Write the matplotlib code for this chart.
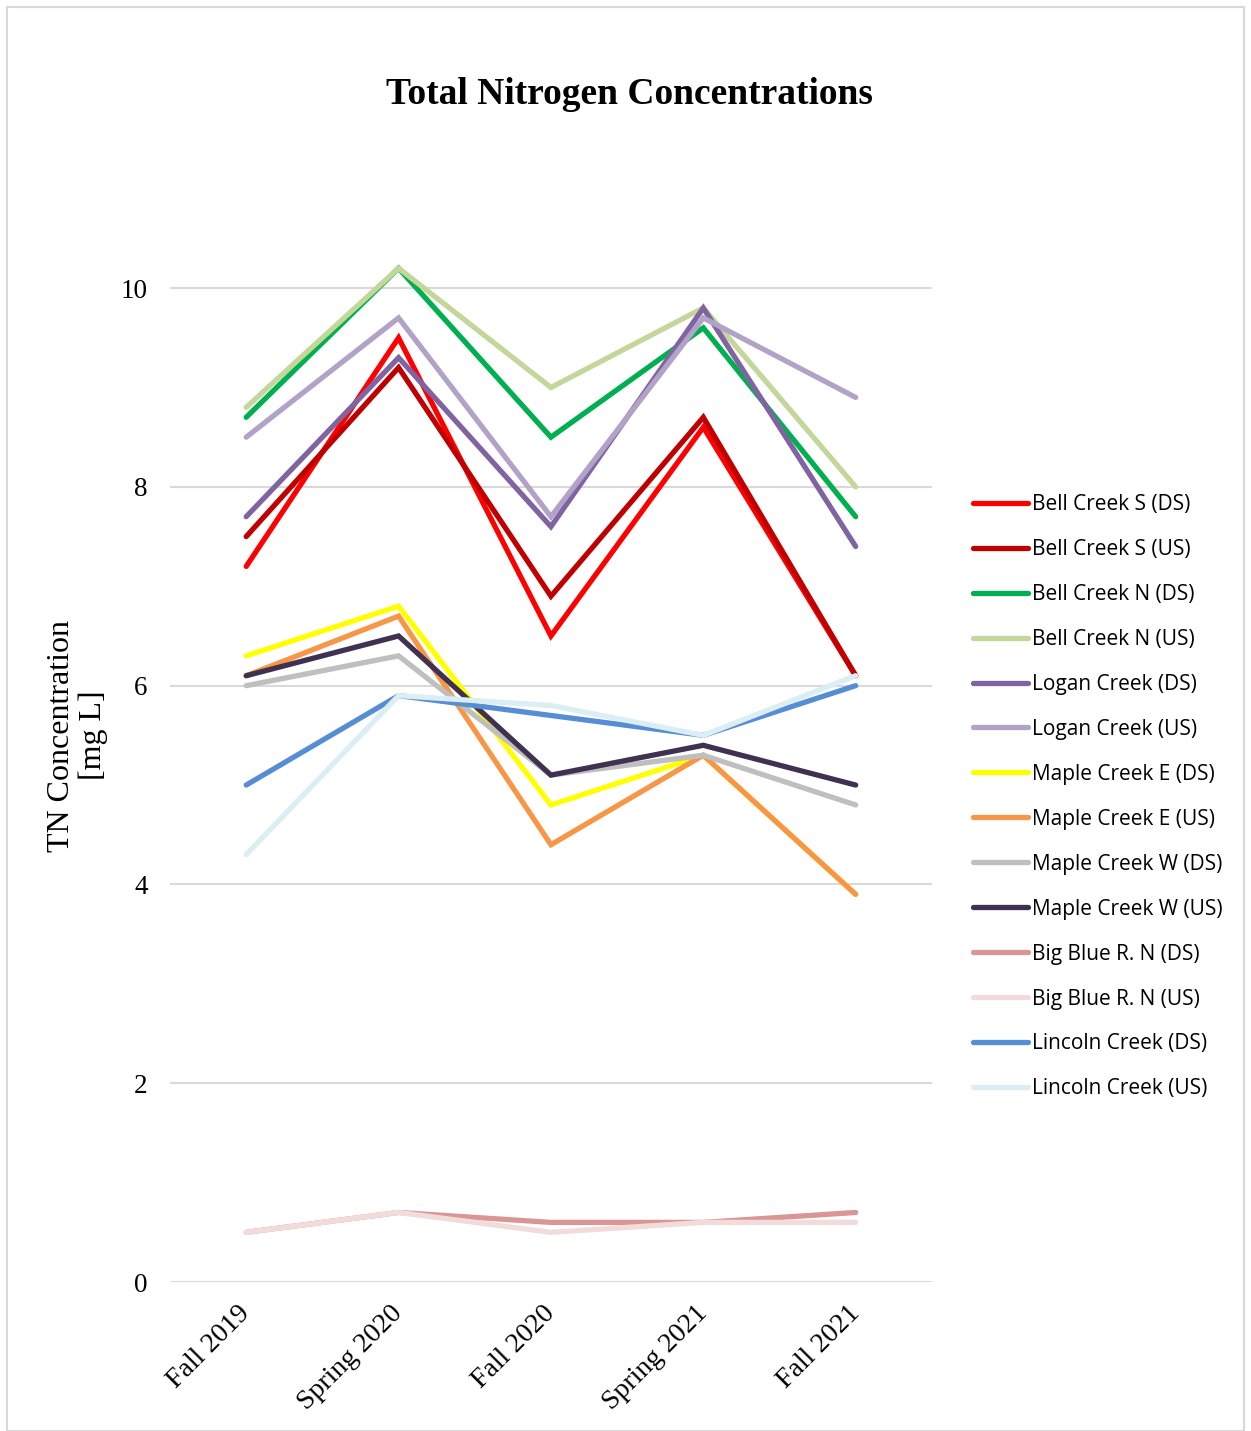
import matplotlib
matplotlib.use("Agg")
import matplotlib.pyplot as plt
from matplotlib.patches import Rectangle

seasons = ["Fall 2019", "Spring 2020", "Fall 2020", "Spring 2021", "Fall 2021"]

sites = [
    "Bell Creek S (DS)", "Bell Creek S (US)",
    "Bell Creek N (DS)", "Bell Creek N (US)",
    "Logan Creek (DS)", "Logan Creek (US)",
    "Maple Creek E (DS)", "Maple Creek E (US)",
    "Maple Creek W (DS)", "Maple Creek W (US)",
    "Big Blue R. N (DS)", "Big Blue R. N (US)",
    "Lincoln Creek (DS)", "Lincoln Creek (US)",
]

bell_s_ds = [7.2, 9.5, 6.5, 8.6, 6.1]
bell_s_us = [7.5, 9.2, 6.9, 8.7, 6.1]
bell_n_ds = [8.7, 10.2, 8.5, 9.6, 7.7]
bell_n_us = [8.8, 10.2, 9.0, 9.8, 8.0]
logan_ds = [7.7, 9.3, 7.6, 9.8, 7.4]
logan_us = [8.5, 9.7, 7.7, 9.7, 8.9]
maple_e_ds = [6.3, 6.8, 4.8, 5.3, 3.9]
maple_e_us = [6.1, 6.7, 4.4, 5.3, 3.9]
maple_w_ds = [6.0, 6.3, 5.1, 5.3, 4.8]
maple_w_us = [6.1, 6.5, 5.1, 5.4, 5.0]
bigblue_ds = [0.5, 0.7, 0.6, 0.6, 0.7]
bigblue_us = [0.5, 0.7, 0.5, 0.6, 0.6]
lincoln_ds = [5.0, 5.9, 5.7, 5.5, 6.0]
lincoln_us = [4.3, 5.9, 5.8, 5.5, 6.1]

series = [bell_s_ds, bell_s_us, bell_n_ds, bell_n_us, logan_ds, logan_us,
          maple_e_ds, maple_e_us, maple_w_ds, maple_w_us,
          bigblue_ds, bigblue_us, lincoln_ds, lincoln_us]

colors = ["#FF0000", "#C00000", "#00B050", "#C4D79B", "#8064A2", "#B3A2C7",
          "#FFFF00", "#F79646", "#BFBFBF", "#403151", "#DA9694", "#F2DCDB",
          "#558ED5", "#DAEEF3"]

fig = plt.figure(figsize=(12.51, 14.31), dpi=100)
fig.add_artist(Rectangle((0.0056, 0.0), 0.9888, 0.9951, transform=fig.transFigure,
                         fill=False, edgecolor="#D9D9D9", linewidth=1.5))

ax = fig.add_axes([0.1359, 0.1041, 0.609, 0.8335])

x = list(range(len(seasons)))
for name, vals, c in zip(sites, series, colors):
    ax.plot(x, vals, color=c, linewidth=3.8, label=name,
            solid_capstyle="round", solid_joinstyle="miter")

ax.set_xlim(-0.5, 4.5)
ax.set_ylim(0, 12)
ax.set_yticks([0, 2, 4, 6, 8, 10])
ax.grid(axis="y", color="#D9D9D9", linewidth=1.5)
ax.set_axisbelow(True)
for s in ax.spines.values():
    s.set_visible(False)
ax.tick_params(length=0)
ax.tick_params(axis="y", pad=16)
ax.set_xticks(x)
ax.set_xticklabels(seasons, rotation=45, ha="right", va="center",
                   rotation_mode="anchor", family="Liberation Serif", fontsize=20)
for lbl in ax.get_yticklabels():
    lbl.set_family("Liberation Serif")
    lbl.set_fontsize(19.5)
ax.tick_params(axis="x", pad=20)

fig.text(0.503, 0.934, "Total Nitrogen Concentrations", ha="center", va="center",
         family="Liberation Serif", fontweight="bold", fontsize=27)
fig.text(0.062, 0.486, "TN Concentration\n[mg L]", ha="center", va="center",
         rotation=90, family="Liberation Serif", fontsize=23, linespacing=1.1)

leg = ax.legend(loc="upper left", bbox_to_anchor=(0.7775, 0.6548),
                bbox_transform=fig.transFigure, frameon=False,
                prop={"family": "Open Sans", "size": 15},
                handlelength=2.65, handletextpad=0.18, labelspacing=1.15,
                borderaxespad=0, borderpad=0)

fig.savefig("out.png", dpi=100)
